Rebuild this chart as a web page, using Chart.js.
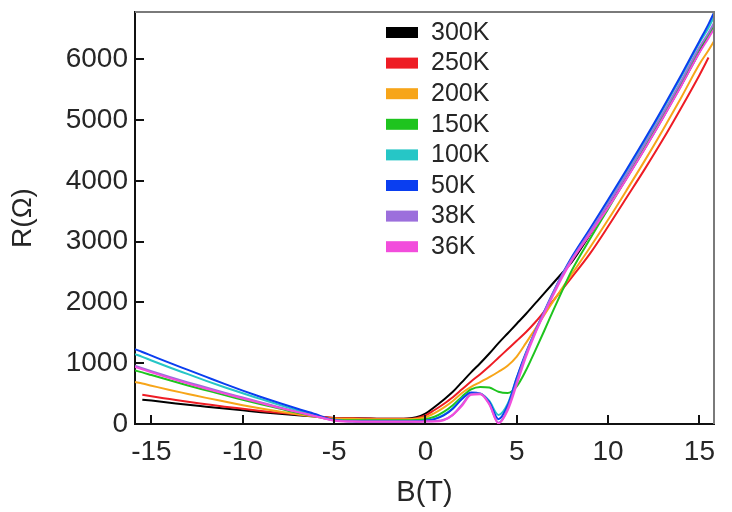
<!DOCTYPE html>
<html lang="en">
<head>
    <meta charset="UTF-8">
    <title>R vs B</title>
    <style>
        * { margin: 0; padding: 0; box-sizing: border-box; }
        body { background: #fff; width: 732px; height: 512px; overflow: hidden; }
        #wrap { width: 732px; height: 512px; }
    </style>
</head>
<body>
    <div id="wrap"><canvas id="chart" width="732" height="512"></canvas></div>

    <script src="https://cdn.jsdelivr.net/npm/chart.js"></script>
    <script>
        // Magnetic field B (T), shared by all curves
        const fieldB = [-15.9, -15.5, -15, -14, -13, -12, -11, -10, -9, -8, -7, -6, -5.4, -5, -4, -3, -2, -1, -0.5,
            0, 0.5, 1, 1.5, 2, 2.5, 3, 3.5, 4, 4.5, 5, 5.5, 6, 6.5, 7, 7.5, 8, 9, 10, 11, 12, 13, 14, 15, 15.5, 15.8];

        // Resistance R (Ohm) for each temperature
        const r300K = [null, 400, 385, 350, 315, 285, 255, 225, 195, 170, 145, 120, 105, 100, 95, 90, 85, 90, 110,
            170, 280, 400, 530, 690, 850, 1000, 1160, 1330, 1490, 1650, 1810, 1980, 2150, 2320, 2490, 2660, 3110, 3570, 4040, 4530, 5040, 5570, 6120, 6400, 6560];
        const r250K = [null, 480, 455, 410, 365, 325, 285, 250, 215, 185, 155, 130, 110, 100, 95, 90, 85, 85, 95,
            140, 230, 330, 440, 570, 700, 820, 950, 1090, 1230, 1370, 1510, 1670, 1850, 2030, 2220, 2410, 2800, 3250, 3720, 4190, 4680, 5200, 5740, 6030, null];
        const r200K = [690, 665, 630, 560, 495, 430, 370, 310, 255, 205, 160, 120, 95, 90, 85, 80, 80, 80, 85,
            110, 180, 270, 380, 510, 610, 690, 770, 860, 960, 1110, 1330, 1560, 1790, 2020, 2240, 2460, 2900, 3360, 3840, 4330, 4840, 5370, 5920, 6150, 6300];
        const r150K = [880, 850, 805, 720, 635, 555, 475, 400, 325, 255, 185, 125, 85, 70, 60, 60, 60, 60, 65,
            80, 120, 200, 310, 450, 570, 610, 600, 530, 510, 620, 880, 1200, 1530, 1870, 2200, 2520, 3040, 3540, 4040, 4550, 5080, 5620, 6180, 6400, 6560];
        const r100K = [1150, 1105, 1045, 930, 820, 710, 605, 505, 410, 315, 225, 145, 90, 60, 45, 40, 40, 40, 45,
            55, 85, 150, 260, 420, 510, 500, 380, 150, 330, 760, 1150, 1500, 1830, 2150, 2450, 2720, 3190, 3660, 4150, 4650, 5170, 5710, 6270, 6520, 6700];
        const r50K = [1230, 1185, 1125, 1005, 890, 775, 660, 550, 445, 345, 250, 160, 95, 65, 45, 40, 40, 40, 45,
            55, 80, 140, 250, 410, 520, 500, 360, 80, 300, 760, 1170, 1520, 1850, 2170, 2470, 2740, 3210, 3690, 4180, 4680, 5200, 5740, 6300, 6580, 6770];
        const r38K = [960, 920, 870, 775, 685, 600, 515, 435, 355, 275, 200, 130, 85, 60, 45, 40, 40, 40, 40,
            45, 50, 70, 150, 320, 490, 500, 330, 20, 250, 700, 1150, 1510, 1840, 2160, 2460, 2710, 3160, 3620, 4100, 4600, 5110, 5640, 6200, 6440, 6600];
        const r36K = [940, 900, 850, 755, 665, 580, 500, 420, 345, 265, 195, 125, 80, 55, 40, 35, 35, 35, 35,
            40, 40, 60, 150, 300, 480, 490, 320, 10, 220, 650, 1100, 1480, 1810, 2120, 2420, 2680, 3120, 3560, 4030, 4520, 5030, 5560, 6110, 6350, 6500];

        const seriesLabels = ['300K', '250K', '200K', '150K', '100K', '50K', '38K', '36K'];
        const seriesValues = [r300K, r250K, r200K, r150K, r100K, r50K, r38K, r36K];
        const seriesColors = ['#000000', '#ee1c24', '#f7a519', '#1ec41e', '#26c6c6', '#0a3ef0', '#9c6fdc', '#f24ddc'];

        const yTicks = [0, 1000, 2000, 3000, 4000, 5000, 6000];
        const xTicks = [-15, -10, -5, 0, 5, 10, 15];

        const FONT = '"Liberation Sans", Arial, sans-serif';
        const TEXT = '#262626';

        // box: gray top/right edges + inward tick marks
        const framePlugin = {
            id: 'frame',
            afterDatasetsDraw(chart) {
                const { ctx, chartArea: a, scales: { x, y } } = chart;
                ctx.save();
                ctx.lineWidth = 2;
                ctx.strokeStyle = '#7a7a7a';
                ctx.beginPath();
                ctx.moveTo(a.left, a.top);
                ctx.lineTo(a.right, a.top);
                ctx.lineTo(a.right, a.bottom);
                ctx.stroke();
                ctx.strokeStyle = '#111';
                ctx.beginPath();
                x.ticks.forEach(t => {
                    const px = Math.round(x.getPixelForValue(t.value));
                    ctx.moveTo(px, a.bottom);
                    ctx.lineTo(px, a.bottom - 9);
                });
                y.ticks.forEach(t => {
                    const py = Math.round(y.getPixelForValue(t.value));
                    ctx.moveTo(a.left, py);
                    ctx.lineTo(a.left + 9, py);
                });
                ctx.stroke();
                ctx.restore();
            }
        };

        // legend inside the plot, top middle
        const legendPlugin = {
            id: 'innerLegend',
            afterDraw(chart) {
                const ctx = chart.ctx;
                ctx.save();
                ctx.font = '25px ' + FONT;
                ctx.textBaseline = 'middle';
                chart.data.datasets.forEach((ds, i) => {
                    const yc = 32 + i * 30.6;
                    ctx.fillStyle = ds.borderColor;
                    ctx.fillRect(386, yc - 5, 32, 11);
                    ctx.fillStyle = TEXT;
                    ctx.fillText(ds.label, 431, yc + 1);
                });
                ctx.restore();
            }
        };

        new Chart(document.getElementById('chart'), {
            type: 'line',
            data: {
                datasets: seriesLabels.map((label, i) => ({
                    label: label,
                    data: fieldB.map((b, j) => ({ x: b, y: seriesValues[i][j] })),
                    borderColor: seriesColors[i],
                    backgroundColor: seriesColors[i],
                    borderWidth: 2,
                    pointRadius: 0,
                    fill: false,
                    order: seriesLabels.length - i,   // low temperatures drawn on top
                    cubicInterpolationMode: 'monotone'
                }))
            },
            options: {
                responsive: false,
                animation: false,
                layout: { padding: { top: 12, right: 18, left: 0, bottom: 0 } },
                plugins: {
                    legend: { display: false },
                    tooltip: { enabled: false }
                },
                scales: {
                    x: {
                        type: 'linear',
                        min: -15.9,
                        max: 15.8,
                        afterFit(scale) { scale.height = 88; scale.paddingLeft = 0; scale.paddingRight = 0; },
                        afterBuildTicks(scale) { scale.ticks = xTicks.map(v => ({ value: v })); },
                        grid: { display: false, drawTicks: false },
                        border: { display: true, color: '#111', width: 2 },
                        ticks: { color: TEXT, padding: 11, font: { family: FONT, size: 28 }, maxRotation: 0 },
                        title: { display: true, text: 'B(T)', color: TEXT, font: { family: FONT, size: 29 }, padding: { top: 0, bottom: 2 } }
                    },
                    y: {
                        type: 'linear',
                        min: 0,
                        max: 6780,
                        afterFit(scale) { scale.width = 135; scale.paddingTop = 0; scale.paddingBottom = 0; },
                        afterBuildTicks(scale) { scale.ticks = yTicks.map(v => ({ value: v })); },
                        grid: { display: false, drawTicks: false },
                        border: { display: true, color: '#111', width: 2 },
                        ticks: { color: TEXT, padding: 7, font: { family: FONT, size: 28 }, callback: v => String(v) },
                        title: { display: true, text: 'R(Ω)', color: TEXT, font: { family: FONT, size: 28 }, padding: { top: 6, bottom: 0 } }
                    }
                }
            },
            plugins: [framePlugin, legendPlugin]
        });
    </script>
</body>
</html>
